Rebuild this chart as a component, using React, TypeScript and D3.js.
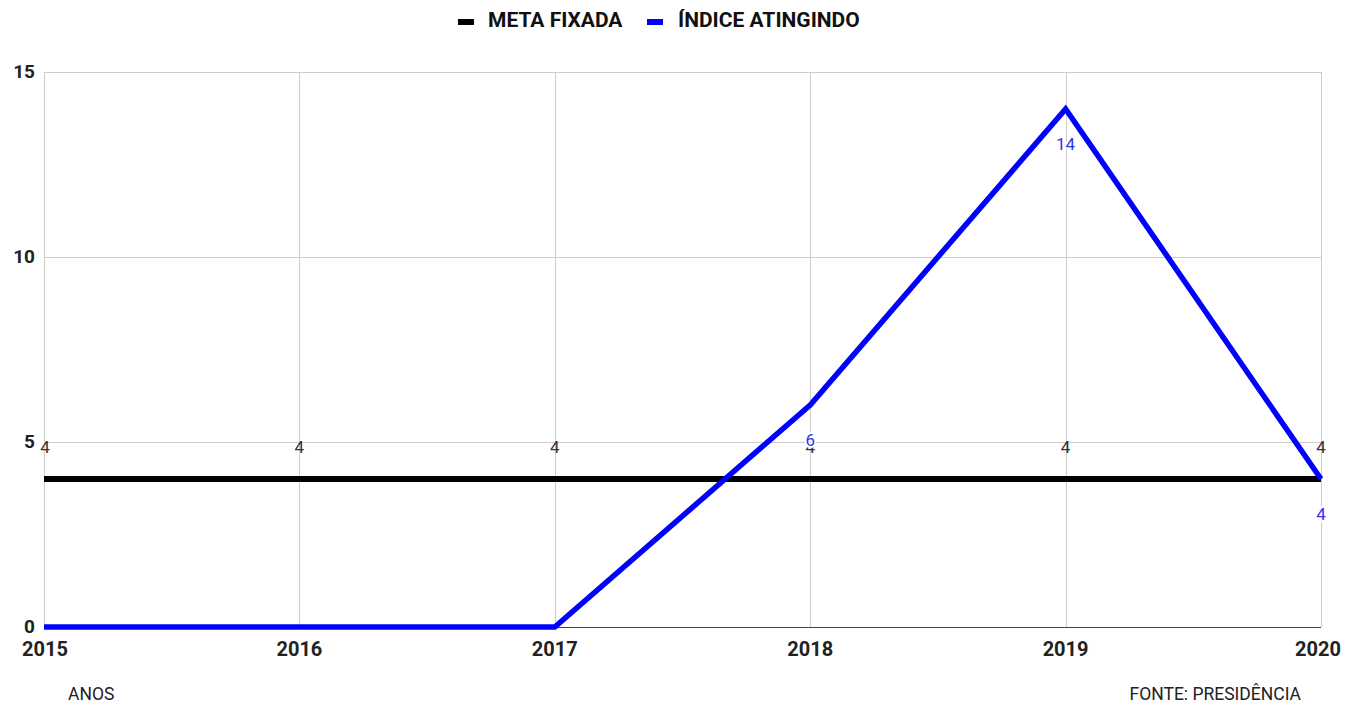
import React, { useEffect, useRef } from 'react';
import * as d3 from 'd3';

const years = [2015, 2016, 2017, 2018, 2019, 2020];
const metaFixada = [4, 4, 4, 4, 4, 4];
const indiceAtingindo = [0, 0, 0, 6, 14, 4];
const yTicks = [0, 5, 10, 15];

const width = 1349, height = 703;
const margin = { left: 44, right: 28, top: 72, bottom: 76 };

const App = () => {
  const svgRef = useRef<SVGSVGElement>(null);

  useEffect(() => {
    const svg = d3.select(svgRef.current);
    svg.selectAll('*').remove();
    svg.attr('font-family', 'Roboto, sans-serif');

    const x = d3.scaleLinear()
      .domain([years[0], years[years.length - 1]])
      .range([margin.left, width - margin.right]);
    const y = d3.scaleLinear()
      .domain([0, 15])
      .range([height - margin.bottom, margin.top]);

    // grid
    const grid = svg.append('g').attr('stroke', '#cccccc').attr('stroke-width', 1);
    grid.append('g').selectAll('line')
      .data(years)
      .join('line')
      .attr('x1', d => Math.round(x(d)) + 0.5)
      .attr('x2', d => Math.round(x(d)) + 0.5)
      .attr('y1', y(15))
      .attr('y2', y(0));
    grid.append('g').selectAll('line')
      .data(yTicks.filter(d => d > 0))
      .join('line')
      .attr('x1', x(2015))
      .attr('x2', x(2020))
      .attr('y1', d => Math.round(y(d)) + 0.5)
      .attr('y2', d => Math.round(y(d)) + 0.5);
    svg.append('line')
      .attr('x1', x(2015)).attr('x2', x(2020))
      .attr('y1', Math.round(y(0)) + 0.5).attr('y2', Math.round(y(0)) + 0.5)
      .attr('stroke', '#444');

    // y labels
    svg.append('g')
      .attr('font-size', 19).attr('font-weight', 'bold').attr('fill', '#222')
      .attr('text-anchor', 'end')
      .selectAll('text')
      .data(yTicks)
      .join('text')
      .attr('x', 35)
      .attr('y', d => y(d))
      .attr('dy', '0.3em')
      .text(d => d);

    // x labels
    svg.append('g')
      .attr('font-size', 20).attr('font-weight', 'bold').attr('fill', '#222')
      .attr('text-anchor', 'middle')
      .selectAll('text')
      .data(years)
      .join('text')
      .attr('x', (d, i) => i === 0 ? x(d) + 1 : i === years.length - 1 ? x(d) - 3 : x(d))
      .attr('y', y(0) + 29)
      .text(d => d);

    const line = d3.line<number>()
      .x((_, i) => x(years[i]))
      .y(d => y(d));

    svg.append('path')
      .datum(metaFixada)
      .attr('fill', 'none')
      .attr('stroke', '#000')
      .attr('stroke-width', 6)
      .attr('d', line);

    svg.append('path')
      .datum(indiceAtingindo)
      .attr('fill', 'none')
      .attr('stroke', '#0000ff')
      .attr('stroke-width', 5.5)
      .attr('stroke-linejoin', 'miter')
      .attr('d', line);

    // data labels
    svg.append('g')
      .attr('font-size', 17).attr('fill', '#333')
      .attr('text-anchor', 'middle')
      .selectAll('text')
      .data(metaFixada)
      .join('text')
      .attr('x', (_, i) => x(years[i]) + (i === 0 ? 1 : 0))
      .attr('y', d => y(d) - 32)
      .attr('dy', '0.35em')
      .text(d => d);

    svg.append('g')
      .attr('font-size', 17).attr('fill', '#3333ee')
      .attr('text-anchor', 'middle')
      .attr('paint-order', 'stroke')
      .attr('stroke', '#fff').attr('stroke-width', 4).attr('stroke-linejoin', 'round')
      .selectAll('text')
      .data(indiceAtingindo.map((v, i) => ({ v, i })).filter(d => d.i >= 3))
      .join('text')
      .attr('x', d => x(years[d.i]))
      .attr('y', d => y(d.v) + 35)
      .attr('dy', '0.35em')
      .text(d => d.v);

    // legend
    const legend = svg.append('g').attr('font-size', 21).attr('font-weight', 'bold').attr('fill', '#111');
    legend.append('rect').attr('x', 458).attr('y', 19).attr('width', 16).attr('height', 6).attr('fill', '#000');
    legend.append('text').attr('x', 488).attr('y', 20).attr('dy', '0.35em').text('META FIXADA');
    legend.append('rect').attr('x', 647).attr('y', 19).attr('width', 16).attr('height', 6).attr('fill', '#0000ff');
    legend.append('text').attr('x', 678).attr('y', 20).attr('dy', '0.35em').text('ÍNDICE ATINGINDO');

    // footer
    svg.append('text').attr('x', 68).attr('y', 694).attr('dy', '0.35em')
      .attr('font-size', 17.5).attr('fill', '#222').text('ANOS');
    svg.append('text').attr('x', 1301).attr('y', 694).attr('dy', '0.35em')
      .attr('text-anchor', 'end')
      .attr('font-size', 17.5).attr('fill', '#222').text('FONTE: PRESIDÊNCIA');
  }, []);

  return (
    <svg ref={svgRef} width={width} height={height}
      style={{ position: 'absolute', left: 0, top: 0, background: '#fff' }} />
  );
};

export default App;
